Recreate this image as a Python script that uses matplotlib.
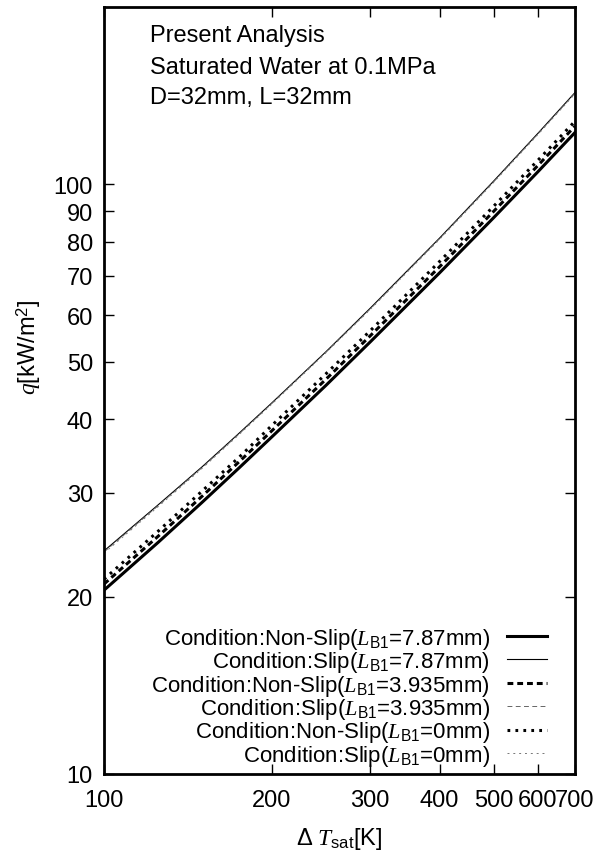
import matplotlib
matplotlib.use('Agg')
import matplotlib.pyplot as plt
from matplotlib.ticker import FixedLocator, NullLocator, FixedFormatter

# Font setup (Helvetica-like text, italic serif for symbols)
plt.rcParams['font.family'] = ['Liberation Sans', 'DejaVu Sans']
plt.rcParams['mathtext.fontset'] = 'custom'
plt.rcParams['mathtext.rm'] = 'Liberation Sans'
plt.rcParams['mathtext.sf'] = 'Liberation Sans'
plt.rcParams['mathtext.it'] = 'Liberation Serif:italic'
FS = 17
LEG_FS = 16

# Data (Delta T_sat [K] vs q [kW/m2])
dT = [100, 125, 150, 175, 200, 250, 300, 400, 500, 600, 700]
q_nonslip_787 = [20.5, 24.7, 28.9, 33.1, 37.3, 45.6, 54.0, 70.8, 87.8, 105.0, 122.5]
q_slip_787 = [23.9, 28.6, 33.2, 37.9, 42.6, 52.0, 61.6, 81.1, 101.3, 122.0, 143.2]
q_nonslip_3935 = [21.0, 25.3, 29.6, 33.9, 38.2, 46.7, 55.3, 72.5, 90.0, 107.6, 125.6]
q_slip_3935 = [23.8, 28.5, 33.1, 37.8, 42.5, 51.9, 61.4, 80.9, 101.0, 121.7, 142.8]
q_nonslip_0 = [21.4, 25.8, 30.2, 34.5, 39.0, 47.7, 56.4, 74.0, 91.8, 109.8, 128.0]
q_slip_0 = [23.7, 28.4, 33.0, 37.7, 42.4, 51.8, 61.3, 80.7, 100.8, 121.4, 142.5]

labels = [
    r'Condition:Non-Slip($L_{\mathrm{B1}}$=7.87mm)',
    r'Condition:Slip($L_{\mathrm{B1}}$=7.87mm)',
    r'Condition:Non-Slip($L_{\mathrm{B1}}$=3.935mm)',
    r'Condition:Slip($L_{\mathrm{B1}}$=3.935mm)',
    r'Condition:Non-Slip($L_{\mathrm{B1}}$=0mm)',
    r'Condition:Slip($L_{\mathrm{B1}}$=0mm)',
]

xticks = [100, 200, 300, 400, 500, 600, 700]
yticks = [10, 20, 30, 40, 50, 60, 70, 80, 90, 100]

fig = plt.figure(figsize=(5.98, 8.54), dpi=100)
ax = fig.add_axes([104 / 598, 79 / 854, 471 / 598, 767 / 854])

ax.plot(dT, q_nonslip_787, color='black', lw=2.2, label=labels[0])
ax.plot(dT, q_slip_787, color='black', lw=0.8, label=labels[1])
ax.plot(dT, q_nonslip_3935, color='black', lw=2.2, dashes=(1.9, 1.3), label=labels[2])
ax.plot(dT, q_slip_3935, color='#666666', lw=0.7, dashes=(5, 3.5), label=labels[3])
ax.plot(dT, q_nonslip_0, color='black', lw=2.2, dashes=(0.9, 1.7), label=labels[4])
ax.plot(dT, q_slip_0, color='#777777', lw=0.7, dashes=(2, 4), label=labels[5])

ax.set_xscale('log')
ax.set_yscale('log')
ax.set_xlim(100, 700)
ax.set_ylim(10, 200)

ax.xaxis.set_major_locator(FixedLocator(xticks))
ax.xaxis.set_major_formatter(FixedFormatter([str(v) for v in xticks]))
ax.xaxis.set_minor_locator(NullLocator())
ax.yaxis.set_major_locator(FixedLocator(yticks))
ax.yaxis.set_major_formatter(FixedFormatter([str(v) for v in yticks]))
ax.yaxis.set_minor_locator(NullLocator())

ax.tick_params(which='major', direction='in', length=7, width=1,
               top=True, right=True, labelsize=FS)
ax.tick_params(axis='x', pad=11)
ax.tick_params(axis='y', pad=8)
for sp in ax.spines.values():
    sp.set_linewidth(2.0)

ax.set_xlabel(r'$\Delta\ T_{\mathrm{sat}}$[K]', fontsize=FS)
ax.set_ylabel(r'$q$[kW/m$^2$]', fontsize=FS)
ax.xaxis.set_label_coords(0.5, -0.066)
ax.yaxis.set_label_coords(-0.13, 0.558)

ax.text(0.098, 0.963, 'Present Analysis', transform=ax.transAxes, fontsize=FS, va='center')
ax.text(0.098, 0.922, 'Saturated Water at 0.1MPa', transform=ax.transAxes, fontsize=FS, va='center')
ax.text(0.098, 0.883, 'D=32mm, L=32mm', transform=ax.transAxes, fontsize=FS, va='center')

ax.legend(loc='lower right', bbox_to_anchor=(0.9406, 0.008), frameon=False,
          markerfirst=False, fontsize=LEG_FS, handlelength=1.8, handletextpad=0.77,
          labelspacing=-0.07, borderpad=0, borderaxespad=0)

fig.savefig('out.png', dpi=100)
